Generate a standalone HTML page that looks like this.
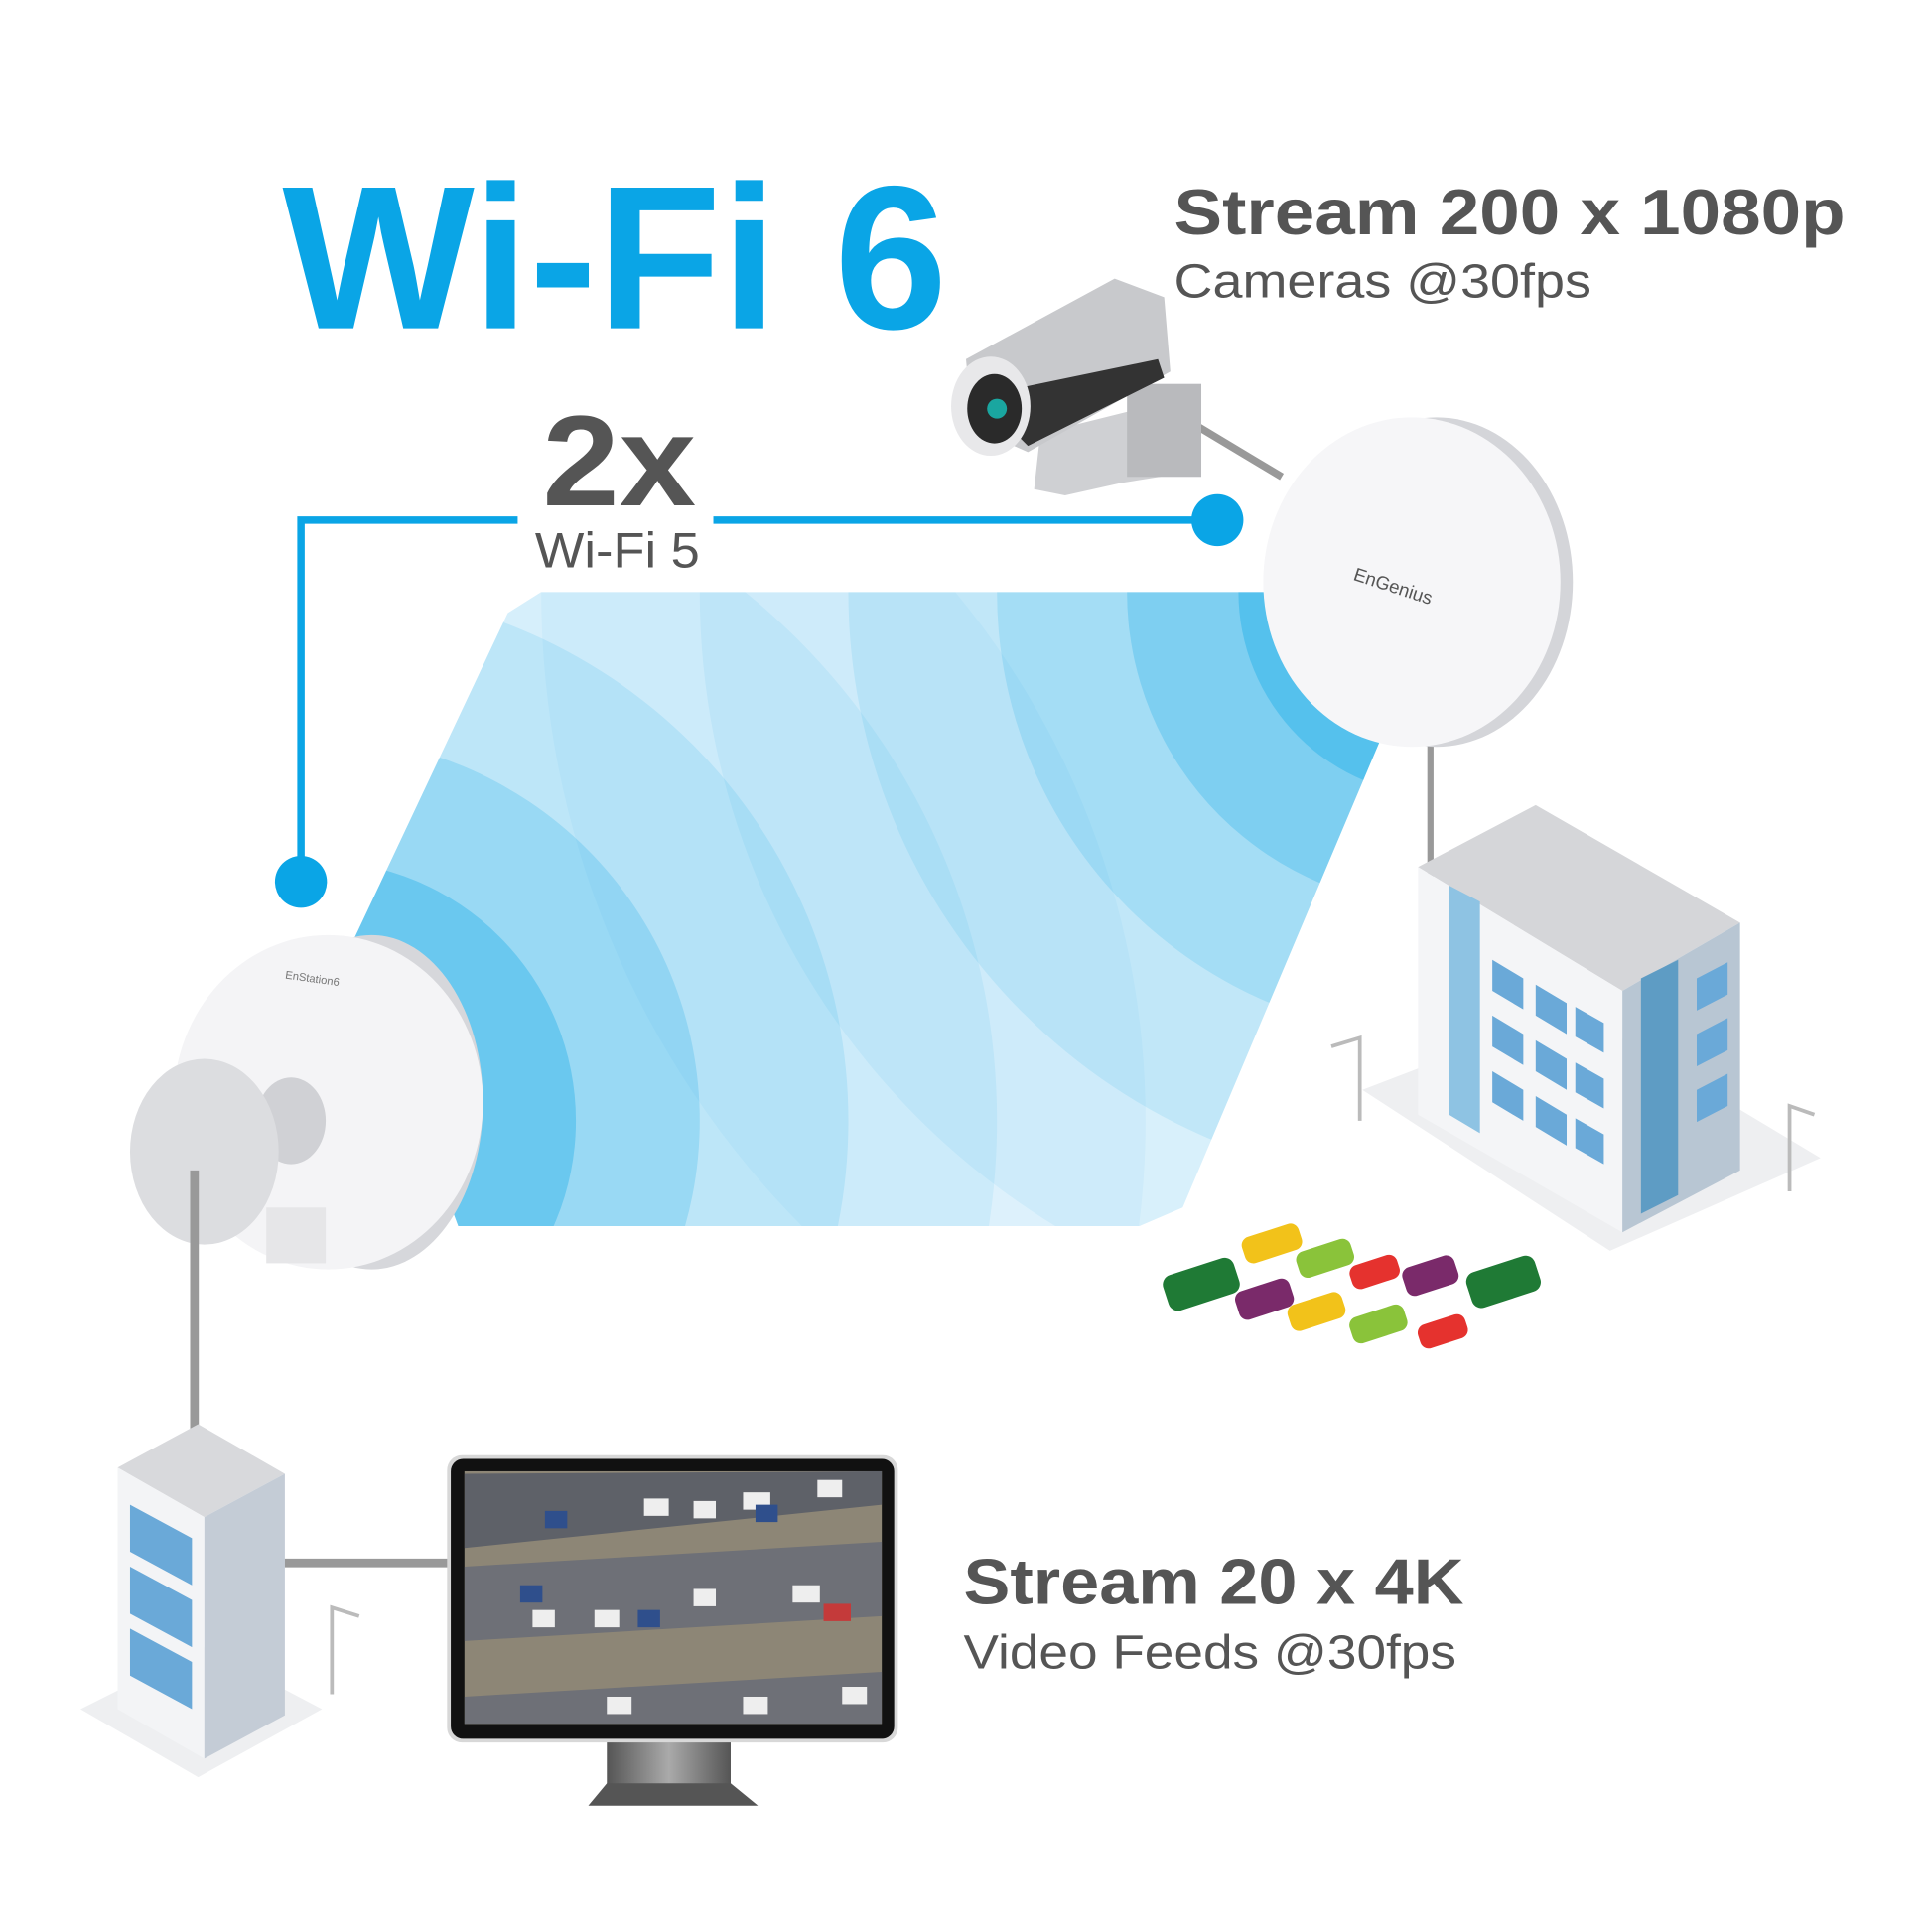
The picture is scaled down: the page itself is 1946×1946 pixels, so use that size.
<!DOCTYPE html>
<html><head><meta charset="utf-8"><style>
html,body{margin:0;padding:0;background:#fff;}
svg{display:block;}
text{font-family:"Liberation Sans",sans-serif;}
</style></head><body>
<svg width="1946" height="1946" viewBox="0 0 1560 1560" xmlns="http://www.w3.org/2000/svg">
<defs>
<clipPath id="wv"><polygon points="437,478 1165,478 955,975 920,990 370,990 285,760 410,495"/></clipPath>
<clipPath id="scr"><rect x="375" y="1188" width="337" height="204"/></clipPath>
<linearGradient id="stand" x1="0" x2="1"><stop offset="0" stop-color="#555"/><stop offset=".5" stop-color="#aaa"/><stop offset="1" stop-color="#555"/></linearGradient>
</defs>
<rect width="1560" height="1560" fill="#fff"/>

<!-- waves -->
<g clip-path="url(#wv)">
<rect x="250" y="470" width="950" height="530" fill="#f4fbfe"/>
<g fill="#0aa5e6">
<circle cx="1165" cy="478" r="728" opacity=".05"/>
<circle cx="1165" cy="478" r="600" opacity=".07"/>
<circle cx="1165" cy="478" r="480" opacity=".11"/>
<circle cx="1165" cy="478" r="360" opacity=".16"/>
<circle cx="1165" cy="478" r="255" opacity=".24"/>
<circle cx="1165" cy="478" r="165" opacity=".35"/>
<circle cx="255" cy="905" r="670" opacity=".05"/>
<circle cx="255" cy="905" r="550" opacity=".08"/>
<circle cx="255" cy="905" r="430" opacity=".12"/>
<circle cx="255" cy="905" r="310" opacity=".20"/>
<circle cx="255" cy="905" r="210" opacity=".32"/>
</g>
</g>

<!-- blue connector -->
<polyline points="243,712 243,420 418,420" fill="none" stroke="#0aa5e6" stroke-width="6"/>
<line x1="576" y1="420" x2="983" y2="420" stroke="#0aa5e6" stroke-width="6"/>
<circle cx="243" cy="712" r="21" fill="#0aa5e6"/>
<circle cx="983" cy="420" r="21" fill="#0aa5e6"/>

<!-- texts -->
<text x="228" y="265" font-size="165" font-weight="bold" fill="#0aa5e6" textLength="537" lengthAdjust="spacingAndGlyphs">Wi-Fi 6</text>
<text x="948" y="189" font-size="52" font-weight="bold" fill="#555" textLength="542" lengthAdjust="spacingAndGlyphs">Stream 200 x 1080p</text>
<text x="948" y="240" font-size="39" fill="#555" textLength="337" lengthAdjust="spacingAndGlyphs">Cameras @30fps</text>
<text x="438" y="408" font-size="104" font-weight="bold" fill="#555" textLength="124" lengthAdjust="spacingAndGlyphs">2x</text>
<text x="432" y="458" font-size="40" fill="#555" textLength="133" lengthAdjust="spacingAndGlyphs">Wi-Fi 5</text>
<text x="778" y="1295" font-size="52" font-weight="bold" fill="#555" textLength="404" lengthAdjust="spacingAndGlyphs">Stream 20 x 4K</text>
<text x="778" y="1347" font-size="39" fill="#555" textLength="398" lengthAdjust="spacingAndGlyphs">Video Feeds @30fps</text>

<!-- camera -->
<line x1="960" y1="340" x2="1035" y2="385" stroke="#999" stroke-width="6"/>
<polygon points="840,350 960,320 968,380 905,390 860,400 835,395" fill="#cfd0d3"/>
<rect x="910" y="310" width="60" height="75" fill="#b9babd"/>
<polygon points="780,290 900,225 940,240 945,300 830,365 785,345" fill="#c8c9cc"/>
<polygon points="790,320 935,290 940,305 830,360" fill="#333"/>
<ellipse cx="800" cy="328" rx="32" ry="40" fill="#e8e8ea"/>
<ellipse cx="803" cy="330" rx="22" ry="28" fill="#2a2a2a"/>
<circle cx="805" cy="330" r="8" fill="#1aa6a0"/>

<!-- right antenna -->
<line x1="1155" y1="590" x2="1155" y2="830" stroke="#999" stroke-width="5"/>
<ellipse cx="1160" cy="470" rx="110" ry="133" fill="#d4d5d9"/>
<ellipse cx="1140" cy="470" rx="120" ry="133" fill="#f6f6f8"/>
<text x="1092" y="468" font-size="15" fill="#555" transform="rotate(18 1092 468)">EnGenius</text>

<!-- right building -->
<polygon points="1100,880 1300,1010 1470,935 1270,815" fill="#eeeff1"/>
<polygon points="1145,700 1240,650 1405,745 1310,800" fill="#d5d6d9"/>
<polygon points="1145,700 1310,800 1310,995 1145,900" fill="#f4f5f7"/>
<polygon points="1310,800 1405,745 1405,945 1310,995" fill="#b8c6d3"/>
<polygon points="1170,715 1195,728 1195,915 1170,900" fill="#8ec3e3"/>
<polygon points="1325,790 1355,775 1355,965 1325,980" fill="#5e9cc4"/>
<g fill="#6aa9d8">
<polygon points="1205,775 1230,790 1230,815 1205,800"/><polygon points="1240,795 1265,810 1265,835 1240,820"/><polygon points="1272,813 1295,826 1295,850 1272,837"/>
<polygon points="1205,820 1230,835 1230,860 1205,845"/><polygon points="1240,840 1265,855 1265,880 1240,865"/><polygon points="1272,858 1295,871 1295,895 1272,882"/>
<polygon points="1205,865 1230,880 1230,905 1205,890"/><polygon points="1240,885 1265,900 1265,925 1240,910"/><polygon points="1272,903 1295,916 1295,940 1272,927"/>
<polygon points="1370,790 1395,777 1395,803 1370,816"/><polygon points="1370,835 1395,822 1395,848 1370,861"/><polygon points="1370,880 1395,867 1395,893 1370,906"/>
</g>
<polyline points="1075,845 1098,838 1098,905" fill="none" stroke="#bbb" stroke-width="3"/>
<polyline points="1465,900 1445,893 1445,962" fill="none" stroke="#bbb" stroke-width="3"/>

<!-- cars -->
<g>
<rect x="940" y="1022" width="60" height="30" rx="8" fill="#1f7a35" transform="rotate(-18 970 1037)"/>
<rect x="1003" y="993" width="48" height="22" rx="7" fill="#f2c21a" transform="rotate(-18 1027 1004)"/>
<rect x="1047" y="1005" width="46" height="22" rx="7" fill="#8ac33a" transform="rotate(-18 1070 1016)"/>
<rect x="1090" y="1017" width="40" height="20" rx="7" fill="#e5322e" transform="rotate(-18 1110 1027)"/>
<rect x="1133" y="1018" width="44" height="24" rx="7" fill="#7a2a6a" transform="rotate(-18 1155 1030)"/>
<rect x="1185" y="1020" width="58" height="30" rx="8" fill="#1f7a35" transform="rotate(-18 1214 1035)"/>
<rect x="998" y="1037" width="46" height="24" rx="7" fill="#7a2a6a" transform="rotate(-18 1021 1049)"/>
<rect x="1040" y="1048" width="46" height="22" rx="7" fill="#f2c21a" transform="rotate(-18 1063 1059)"/>
<rect x="1090" y="1058" width="46" height="22" rx="7" fill="#8ac33a" transform="rotate(-18 1113 1069)"/>
<rect x="1145" y="1065" width="40" height="20" rx="7" fill="#e5322e" transform="rotate(-18 1165 1075)"/>
</g>

<!-- left antenna -->
<ellipse cx="300" cy="890" rx="90" ry="135" fill="#d6d7db"/>
<ellipse cx="265" cy="890" rx="125" ry="135" fill="#f4f4f6"/>
<text x="230" y="790" font-size="9" fill="#777" transform="rotate(8 230 790)">EnStation6</text>
<ellipse cx="235" cy="905" rx="28" ry="35" fill="#d0d1d5"/>
<rect x="215" y="975" width="48" height="45" fill="#e6e6e8"/>
<ellipse cx="165" cy="930" rx="60" ry="75" fill="#dcdde0"/>
<line x1="157" y1="945" x2="157" y2="1155" stroke="#999" stroke-width="7"/>

<!-- left building -->
<polygon points="65,1380 160,1435 260,1380 165,1330" fill="#eeeff1"/>
<polygon points="95,1185 160,1150 230,1190 165,1225" fill="#d8d9dc"/>
<polygon points="95,1185 165,1225 165,1420 95,1380" fill="#f3f4f6"/>
<polygon points="165,1225 230,1190 230,1385 165,1420" fill="#c4ccd6"/>
<g fill="#6aa9d8">
<polygon points="105,1215 155,1242 155,1280 105,1253"/>
<polygon points="105,1265 155,1292 155,1330 105,1303"/>
<polygon points="105,1315 155,1342 155,1380 105,1353"/>
</g>
<line x1="230" y1="1262" x2="362" y2="1262" stroke="#999" stroke-width="7"/>
<polyline points="290,1305 268,1298 268,1368" fill="none" stroke="#bbb" stroke-width="3"/>

<!-- monitor -->
<rect x="490" y="1405" width="100" height="40" fill="url(#stand)"/>
<polygon points="490,1440 590,1440 612,1458 475,1458" fill="#555"/>
<rect x="361" y="1175" width="364" height="232" rx="12" fill="#d8d8d8"/>
<rect x="364" y="1178" width="358" height="226" rx="10" fill="#111"/>
<rect x="375" y="1188" width="337" height="204" fill="#8d8676"/>
<g clip-path="url(#scr)">
<polygon points="375,1190 712,1188 712,1215 375,1250" fill="#5e6168"/>
<polygon points="375,1265 712,1245 712,1305 375,1325" fill="#6e7077"/>
<polygon points="375,1370 712,1350 712,1392 375,1392" fill="#6e7077"/>
<g fill="#eee">
<rect x="520" y="1210" width="20" height="14"/><rect x="600" y="1205" width="22" height="14"/><rect x="660" y="1195" width="20" height="14"/><rect x="560" y="1212" width="18" height="14"/>
<rect x="480" y="1300" width="20" height="14"/><rect x="640" y="1280" width="22" height="14"/><rect x="560" y="1283" width="18" height="14"/><rect x="430" y="1300" width="18" height="14"/>
<rect x="490" y="1370" width="20" height="14"/><rect x="600" y="1370" width="20" height="14"/><rect x="680" y="1362" width="20" height="14"/>
</g>
<g fill="#2f4f8c"><rect x="440" y="1220" width="18" height="14"/><rect x="515" y="1300" width="18" height="14"/><rect x="610" y="1215" width="18" height="14"/><rect x="420" y="1280" width="18" height="14"/></g>
<rect x="665" y="1295" width="22" height="14" fill="#c43a3a"/>
</g>
</svg>
</body></html>
